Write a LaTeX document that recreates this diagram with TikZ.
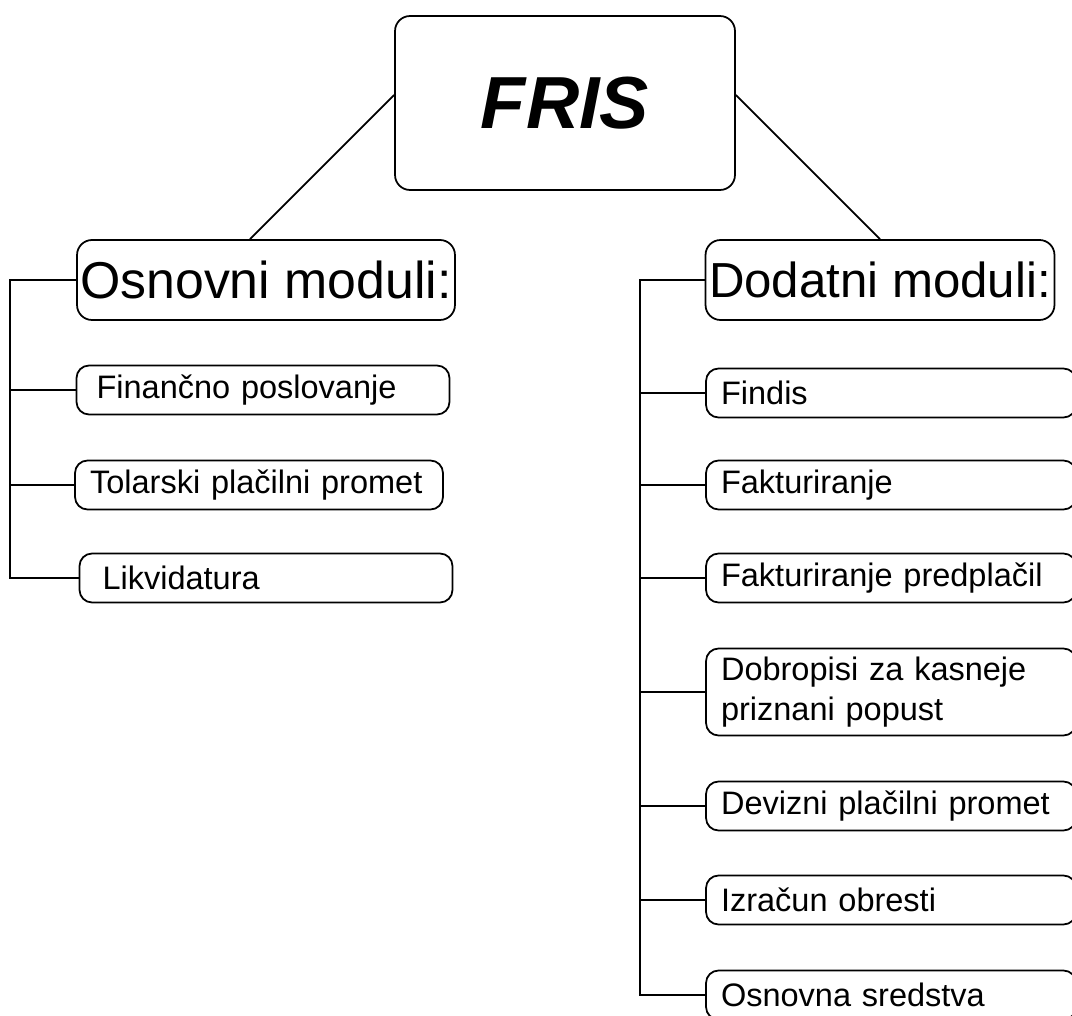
\documentclass[tikz,border=0pt]{standalone}
\usepackage{fontspec}
\setmainfont{Liberation Sans}
\usepackage{tikz}

\begin{document}
\begin{tikzpicture}[x=0.02cm,y=-0.02cm,line width=1pt]
\tikzstyle{glava}=[draw, rounded corners=0.3cm, minimum width=6.8cm, minimum height=3.48cm, font=\fontsize{42}{50}\selectfont\bfseries\itshape]
\tikzstyle{skupina}=[draw, rounded corners=0.3cm, minimum height=1.6cm, inner xsep=1pt, font=\fontsize{29.5}{35}\selectfont]
\tikzstyle{modul}=[draw, rounded corners=0.25cm, minimum height=0.98cm, align=left, font=\fontsize{18.5}{22.7}\selectfont]
\tikzstyle{levi}=[modul, inner xsep=0.4cm, text width=6.66cm]
\tikzstyle{desni}=[modul, inner xsep=0.3cm, text width=6.8cm]
\useasboundingbox (0,0) rectangle (1072,1016);
\clip (0,0) rectangle (1072,1016);

\node[glava] (fris) at (565,103) {FRIS};

\node[skupina, minimum width=7.56cm] (osn) at (266,280) {Osnovni moduli:};
\node[levi] (fin) at (263,390) {Finančno poslovanje};
\node[levi, inner xsep=0.3cm, text width=6.76cm] (tol) at (259,485) {Tolarski plačilni promet};
\node[levi, inner xsep=0.46cm, text width=6.54cm] (lik) at (266,578) {Likvidatura};

\node[skupina, minimum width=6.98cm, font=\fontsize{28}{34}\selectfont] (dod) at (880,280) {Dodatni moduli:};
\node[desni] (findis) at (891,393) {Findis};
\node[desni] (fakt) at (891,485) {Fakturiranje};
\node[desni] (pred) at (891,578) {Fakturiranje predplačil};
\node[desni, minimum height=1.74cm] (dobro) at (891,692) {Dobropisi za kasneje\\priznani popust};
\node[desni] (deviz) at (891,806) {Devizni plačilni promet};
\node[desni] (obr) at (891,900) {Izračun obresti};
\node[desni] (sred) at (891,995) {Osnovna sredstva};

\coordinate (lgor) at (10,280);
\coordinate (ldol) at (10,578);
\coordinate (dgor) at (640,280);
\coordinate (ddol) at (640,995);

\path
([yshift=0.16cm]fris.west) edge ([xshift=-0.32cm]osn.north)
([yshift=0.16cm]fris.east) edge (dod.north);

\draw (osn.west) -- (lgor) -- (ldol) -- (lik.west);
\foreach \m in {fin,tol}
  \draw (\m.west) -- (\m.west -| lgor);

\draw (dod.west) -- (dgor) -- (ddol) -- (sred.west);
\foreach \m in {findis,fakt,pred,dobro,deviz,obr}
  \draw (\m.west) -- (\m.west -| dgor);

\end{tikzpicture}
\end{document}
